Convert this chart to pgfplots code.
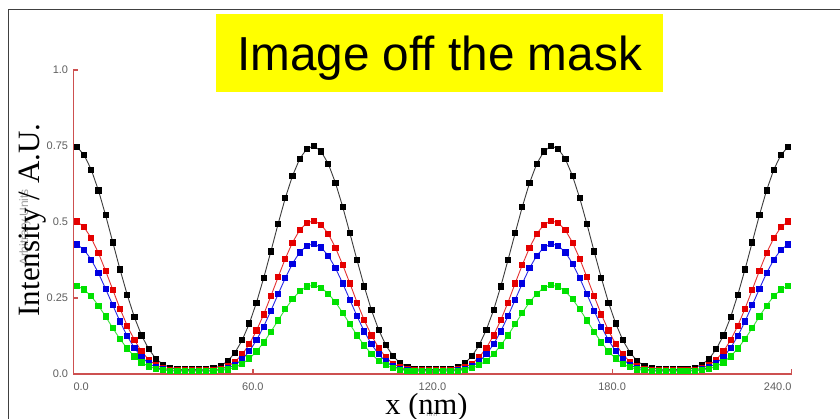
\documentclass[border=0pt]{standalone}
\usepackage{pgfplots}
\pgfplotsset{compat=1.18}
\usepackage{pgfplotstable}
\usepackage{fontspec}
\setmainfont{Liberation Serif}
\newfontfamily\arial{Liberation Sans}
\definecolor{axred}{RGB}{205,80,80}
\definecolor{tickgray}{RGB}{95,95,95}
\definecolor{framegray}{RGB}{64,64,64}
\definecolor{lk}{RGB}{60,60,60}
\definecolor{mk}{RGB}{0,0,0}
\definecolor{lr}{RGB}{228,50,50}
\definecolor{mr}{RGB}{228,0,0}
\definecolor{lb}{RGB}{40,40,230}
\definecolor{mb}{RGB}{0,0,225}
\definecolor{lg}{RGB}{60,225,60}
\definecolor{mg}{RGB}{0,225,0}
\definecolor{ttl}{RGB}{255,255,0}
\pgfplotstableread{
x b r u g
1.2 0.747 0.502 0.426 0.290
3.6 0.721 0.483 0.409 0.278
6.0 0.672 0.447 0.376 0.256
8.4 0.604 0.398 0.332 0.225
10.8 0.522 0.339 0.280 0.189
13.2 0.433 0.277 0.226 0.151
15.6 0.344 0.215 0.173 0.115
18.0 0.261 0.159 0.125 0.084
20.4 0.187 0.112 0.086 0.058
22.8 0.127 0.074 0.056 0.038
25.2 0.082 0.047 0.035 0.025
27.6 0.050 0.029 0.022 0.017
30.0 0.031 0.019 0.015 0.013
32.4 0.021 0.014 0.011 0.011
34.8 0.016 0.012 0.010 0.010
37.2 0.015 0.012 0.010 0.010
39.6 0.015 0.012 0.010 0.010
42.0 0.015 0.012 0.010 0.010
44.4 0.016 0.012 0.010 0.010
46.8 0.019 0.013 0.011 0.010
49.2 0.026 0.017 0.013 0.012
51.6 0.043 0.025 0.019 0.015
54.0 0.070 0.040 0.030 0.022
56.4 0.111 0.064 0.048 0.033
58.8 0.166 0.098 0.075 0.051
61.2 0.235 0.143 0.111 0.074
63.6 0.316 0.196 0.156 0.104
66.0 0.403 0.256 0.208 0.139
68.4 0.493 0.318 0.262 0.176
70.8 0.578 0.379 0.315 0.213
73.2 0.651 0.432 0.363 0.246
75.6 0.707 0.473 0.400 0.272
78.0 0.741 0.497 0.422 0.288
80.4 0.750 0.504 0.428 0.292
82.8 0.732 0.491 0.416 0.284
85.2 0.691 0.461 0.389 0.264
87.6 0.628 0.415 0.348 0.236
90.0 0.550 0.359 0.298 0.201
92.4 0.463 0.298 0.244 0.164
94.8 0.374 0.235 0.190 0.127
97.2 0.288 0.177 0.140 0.094
99.6 0.210 0.127 0.098 0.066
102.0 0.146 0.086 0.065 0.044
104.4 0.095 0.055 0.041 0.029
106.8 0.059 0.034 0.025 0.019
109.2 0.036 0.022 0.016 0.014
111.6 0.023 0.015 0.012 0.011
114.0 0.017 0.013 0.010 0.010
116.4 0.015 0.012 0.010 0.010
118.8 0.015 0.012 0.010 0.010
121.2 0.015 0.012 0.010 0.010
123.6 0.015 0.012 0.010 0.010
126.0 0.017 0.013 0.010 0.010
128.4 0.023 0.015 0.012 0.011
130.8 0.036 0.022 0.016 0.014
133.2 0.059 0.034 0.025 0.019
135.6 0.095 0.055 0.041 0.029
138.0 0.146 0.086 0.065 0.044
140.4 0.210 0.127 0.098 0.066
142.8 0.288 0.177 0.140 0.094
145.2 0.374 0.235 0.190 0.127
147.6 0.463 0.298 0.244 0.164
150.0 0.550 0.359 0.298 0.201
152.4 0.628 0.415 0.348 0.236
154.8 0.691 0.461 0.389 0.264
157.2 0.732 0.491 0.416 0.284
159.6 0.750 0.504 0.428 0.292
162.0 0.741 0.497 0.422 0.288
164.4 0.707 0.473 0.400 0.272
166.8 0.651 0.432 0.363 0.246
169.2 0.578 0.379 0.315 0.213
171.6 0.493 0.318 0.262 0.176
174.0 0.403 0.256 0.208 0.139
176.4 0.316 0.196 0.156 0.104
178.8 0.235 0.143 0.111 0.074
181.2 0.166 0.098 0.075 0.051
183.6 0.111 0.064 0.048 0.033
186.0 0.070 0.040 0.030 0.022
188.4 0.043 0.025 0.019 0.015
190.8 0.026 0.017 0.013 0.012
193.2 0.019 0.013 0.011 0.010
195.6 0.016 0.012 0.010 0.010
198.0 0.015 0.012 0.010 0.010
200.4 0.015 0.012 0.010 0.010
202.8 0.015 0.012 0.010 0.010
205.2 0.016 0.012 0.010 0.010
207.6 0.021 0.014 0.011 0.011
210.0 0.031 0.019 0.015 0.013
212.4 0.050 0.029 0.022 0.017
214.8 0.082 0.047 0.035 0.025
217.2 0.127 0.074 0.056 0.038
219.6 0.187 0.112 0.086 0.058
222.0 0.261 0.159 0.125 0.084
224.4 0.344 0.215 0.173 0.115
226.8 0.433 0.277 0.226 0.151
229.2 0.522 0.339 0.280 0.189
231.6 0.604 0.398 0.332 0.225
234.0 0.672 0.447 0.376 0.256
236.4 0.721 0.483 0.409 0.278
238.8 0.747 0.502 0.426 0.290
}\profile
\begin{document}
\begin{tikzpicture}[x=1pt,y=1pt]
\useasboundingbox (0,0) rectangle (840,419);
\fill[white] (0,0) rectangle (840,419);
\draw[framegray, line width=1.4pt] (8.3,-5) -- (8.3,409.7) -- (845,409.7);
\fill[ttl] (216,327.3) rectangle (662.7,405);
\node[anchor=base, inner sep=0pt, font=\arial\fontsize{47.7}{50}\selectfont] at (439.5,348.3) {Image off the mask};
\begin{axis}[
  at={(73.3pt,45pt)}, anchor=south west,
  scale only axis, width=718.4pt, height=304pt,
  xmin=0, xmax=240, ymin=0, ymax=1,
  axis x line*=bottom, axis y line*=left,
  x axis line style={draw=axred, line width=1.4pt},
  y axis line style={draw=axred, line width=1.4pt},
  xtick={0,60,120,180,240}, xticklabels={},
  ytick={0,0.25,0.5,0.75,1}, yticklabels={0.0,0.25,0.5,0.75,1.0},
  tick align=inside, major tick length=5pt,
  tick style={draw=axred, line width=1.2pt},
  yticklabel style={font=\arial\fontsize{11}{11}\selectfont, text=tickgray, anchor=east, inner sep=0pt, xshift=-5pt},
  clip=false]
\addplot[lk, line width=0.9pt, mark=square*, mark size=2.6pt, mark options={fill=mk, draw=mk}] table[x=x,y=b]{\profile};
\addplot[lr, line width=0.9pt, mark=square*, mark size=2.6pt, mark options={fill=mr, draw=mr}] table[x=x,y=r]{\profile};
\addplot[lb, line width=0.9pt, mark=square*, mark size=2.6pt, mark options={fill=mb, draw=mb}] table[x=x,y=u]{\profile};
\addplot[lg, line width=0.9pt, mark=square*, mark size=2.6pt, mark options={fill=mg, draw=mg}] table[x=x,y=g]{\profile};
\node[anchor=north west, inner sep=0pt, yshift=-8.5pt, font=\arial\fontsize{11}{11}\selectfont, text=tickgray] at (axis cs:0,0) {0.0};
\node[anchor=north, inner sep=0pt, yshift=-8.5pt, font=\arial\fontsize{11}{11}\selectfont, text=tickgray] at (axis cs:60,0) {60.0};
\node[anchor=north, inner sep=0pt, yshift=-8.5pt, font=\arial\fontsize{11}{11}\selectfont, text=tickgray] at (axis cs:120,0) {120.0};
\node[anchor=north, inner sep=0pt, yshift=-8.5pt, font=\arial\fontsize{11}{11}\selectfont, text=tickgray] at (axis cs:180,0) {180.0};
\node[anchor=north east, inner sep=0pt, yshift=-8.5pt, font=\arial\fontsize{11}{11}\selectfont, text=tickgray] at (axis cs:240,0) {240.0};
\end{axis}
\node[rotate=90, anchor=base, inner sep=0pt, text=gray!75, font=\arial\fontsize{12}{12}\selectfont] at (28,192) {Arbitrary Units};
\node[rotate=90, anchor=base, inner sep=0pt, font=\fontsize{31}{31}\selectfont] at (39.5,199) {Intensity / A.U.};
\node[anchor=base, inner sep=0pt, text=gray!75, font=\arial\fontsize{8}{8}\selectfont] at (432,2) {nm};
\node[anchor=base, inner sep=0pt, font=\fontsize{30.5}{30.5}\selectfont] at (426.5,4.5) {x (nm)};
\end{tikzpicture}
\end{document}
